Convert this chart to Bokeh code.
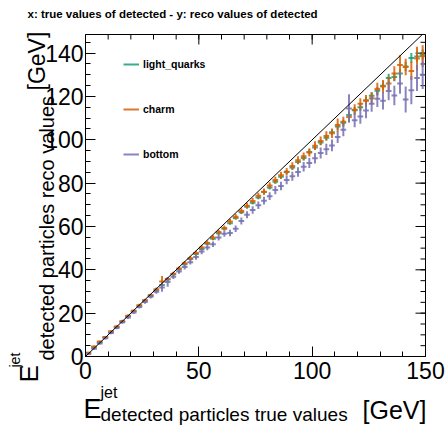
import math
import numpy as np
from bokeh.plotting import figure
from bokeh.models import (ColumnDataSource, Label, Legend, LegendItem,
                          SingleIntervalTicker, Slope, Range1d)
from bokeh.embed import file_html
from bokeh.resources import INLINE

# ---------------- data ----------------
bin_low = 0.0
bin_high = 150.0
n_bins = 60

light_quarks_y = [1.6, 4.1, 6.5, 8.9, 11.2, 13.6, 16.0, 18.6, 21.0, 23.4,
                  25.8, 28.2, 30.6, 33.0, 35.5, 37.9, 40.2, 42.6, 45.0, 47.3,
                  49.6, 52.0, 54.3, 56.9, 59.0, 61.5, 63.9, 66.6, 69.1, 71.0,
                  73.4, 75.9, 78.0, 80.6, 82.9, 85.1, 87.2, 89.8, 91.6, 94.4,
                  96.5, 98.8, 101.0, 103.5, 106.1, 107.9, 111.4, 113.6, 115.0, 118.2,
                  120.3, 122.6, 124.9, 128.5, 129.0, 130.6, 133.8, 137.8, 138.4, 139.2]
light_quarks_err = [0.3, 0.3, 0.3, 0.3, 0.3, 0.3, 0.4, 0.4, 0.4, 0.4,
                    0.4, 0.4, 0.5, 0.5, 0.5, 0.5, 0.5, 0.5, 0.6, 0.6,
                    0.6, 0.6, 0.6, 0.7, 0.7, 0.7, 0.7, 0.8, 0.8, 0.8,
                    0.8, 0.9, 0.9, 0.9, 1.0, 1.0, 1.0, 1.1, 1.1, 1.2,
                    1.2, 1.2, 1.3, 1.3, 1.4, 1.4, 1.5, 1.5, 1.6, 1.7,
                    1.7, 1.8, 1.9, 2.0, 2.0, 2.1, 2.2, 2.3, 2.4, 2.5]

charm_y = [1.7, 4.6, 6.9, 9.0, 11.6, 13.9, 16.4, 18.8, 21.1, 23.7,
           26.0, 28.3, 31.0, 34.6, 35.8, 38.2, 40.6, 43.0, 45.3, 47.8,
           50.3, 52.4, 54.9, 57.4, 59.3, 62.3, 64.5, 67.1, 69.6, 71.8,
           74.2, 76.0, 78.9, 81.4, 83.7, 85.3, 87.9, 90.6, 92.4, 94.2,
           97.3, 99.5, 101.8, 103.0, 106.8, 108.3, 110.5, 113.9, 116.6, 118.0,
           119.2, 123.4, 124.6, 126.0, 130.6, 134.5, 133.6, 131.8, 137.5, 138.6]
charm_err = [0.5, 0.5, 0.5, 0.5, 0.5, 0.6, 0.6, 0.6, 0.6, 0.7,
             0.7, 0.7, 0.8, 2.5, 0.8, 0.9, 0.9, 0.9, 1.0, 1.0,
             1.0, 1.1, 1.1, 1.1, 1.2, 1.2, 1.3, 1.3, 1.3, 1.4,
             1.4, 1.5, 1.5, 1.6, 1.6, 1.7, 1.7, 1.8, 1.8, 1.9,
             2.0, 2.0, 2.1, 2.2, 3.0, 2.3, 2.4, 2.5, 2.6, 2.7,
             2.8, 2.9, 3.0, 3.2, 3.4, 4.5, 3.8, 4.2, 5.5, 5.0]

bottom_y = [1.2, 3.6, 6.0, 8.4, 10.9, 13.2, 15.8, 18.0, 20.3, 22.9,
            25.1, 27.6, 29.9, 31.9, 34.4, 36.8, 39.2, 41.3, 43.5, 45.9,
            48.4, 50.3, 51.8, 54.9, 56.7, 57.0, 58.9, 62.5, 65.4, 67.6,
            69.8, 71.9, 74.0, 76.8, 78.7, 81.5, 83.2, 85.1, 87.6, 89.3,
            91.5, 93.9, 95.6, 97.4, 101.3, 104.6, 114.5, 109.0, 110.8, 113.5,
            116.6, 118.9, 118.0, 122.5, 120.4, 126.0, 118.6, 122.9, 128.5, 130.0]
bottom_err = [0.5, 0.5, 0.5, 0.6, 0.6, 0.6, 0.7, 0.7, 0.7, 0.8,
              0.8, 0.8, 0.9, 2.0, 2.2, 1.0, 1.0, 1.1, 1.1, 1.2,
              1.2, 1.3, 1.3, 1.4, 1.4, 1.5, 1.5, 1.6, 1.6, 1.7,
              1.7, 1.8, 1.8, 1.9, 2.0, 2.0, 2.1, 2.2, 2.2, 2.3,
              2.4, 2.5, 2.6, 2.7, 2.8, 3.0, 6.5, 3.2, 3.4, 3.5,
              3.6, 3.8, 4.0, 4.2, 4.5, 4.8, 6.0, 6.5, 6.0, 6.5]

series_names = ["light_quarks", "charm", "bottom"]
series_colors = ["#1b9e77", "#d95f02", "#7570b3"]

x_major_step = 50
x_minor_step = 10
y_major_step = 20
y_minor_step = 5

# ---------------- figure ----------------
FIG_W, FIG_H = 448, 425
BL, BR, BT, BB = 85, 23, 34, 69
X_END = 150.0
Y_END = 148.6
FONT = "Liberation Sans"

p = figure(width=FIG_W, height=FIG_H, output_backend="svg", toolbar_location=None,
           x_range=Range1d(0, X_END), y_range=Range1d(0, Y_END),
           min_border_left=BL, min_border_right=BR, min_border_top=BT, min_border_bottom=BB)
p.grid.visible = False
p.outline_line_color = "black"
p.outline_line_width = 1
p.background_fill_color = "white"
p.border_fill_color = "white"


def style_axis(ax, standoff):
    ax.axis_line_color = "black"
    ax.axis_line_width = 1
    ax.major_tick_in = 10
    ax.major_tick_out = 0
    ax.minor_tick_in = 5
    ax.minor_tick_out = 0
    ax.major_tick_line_color = "black"
    ax.minor_tick_line_color = "black"
    ax.major_label_text_font = FONT
    ax.major_label_text_color = "black"
    ax.major_label_standoff = standoff
    ax.major_label_text_font_size = "23px"


p.xaxis.ticker = SingleIntervalTicker(interval=x_major_step, num_minor_ticks=x_major_step // x_minor_step)
p.yaxis.ticker = SingleIntervalTicker(interval=y_major_step, num_minor_ticks=y_major_step // y_minor_step)
style_axis(p.xaxis[0], 5)
style_axis(p.yaxis[0], 2)

# mirrored ticks on top and right edges (ROOT style)
top_major = np.arange(0, X_END + 0.1, x_major_step)
top_minor = np.arange(0, X_END + 0.1, x_minor_step)
right_major = np.arange(0, Y_END, y_major_step)
right_minor = np.arange(0, Y_END, y_minor_step)
p.ray(x=top_minor, y=Y_END, length=5, length_units="screen", angle=-math.pi / 2,
      line_color="black", line_width=1)
p.ray(x=top_major, y=Y_END, length=10, length_units="screen", angle=-math.pi / 2,
      line_color="black", line_width=1)
p.ray(x=X_END, y=right_minor, length=5, length_units="screen", angle=math.pi,
      line_color="black", line_width=1)
p.ray(x=X_END, y=right_major, length=10, length_units="screen", angle=math.pi,
      line_color="black", line_width=1)

# diagonal y = x
p.add_layout(Slope(gradient=1, y_intercept=0, line_color="black", line_width=1))

edges = np.linspace(bin_low, bin_high, n_bins + 1)
centers = 0.5 * (edges[:-1] + edges[1:])
half_w = 0.5 * (edges[1:] - edges[:-1])

legend_items = []
for name, col, ys, es in zip(series_names, series_colors,
                             [light_quarks_y, charm_y, bottom_y],
                             [light_quarks_err, charm_err, bottom_err]):
    ys = np.array(ys)
    es = np.array(es)
    src = ColumnDataSource(dict(x=centers, xl=centers - half_w, xr=centers + half_w,
                                y=ys, yl=ys - es, yh=ys + es))
    rv = p.segment(x0="x", y0="yl", x1="x", y1="yh", source=src,
                   line_color=col, line_width=2, line_alpha=0.85)
    p.segment(x0="xl", y0="y", x1="xr", y1="y", source=src,
              line_color=col, line_width=2, line_alpha=0.85)
    legend_items.append(LegendItem(label=name, renderers=[rv]))

legend = Legend(items=legend_items, location=(38, 192),
                glyph_width=16, glyph_height=20, spacing=25, padding=5, margin=0,
                label_standoff=4, label_text_font=FONT, label_text_font_size="10.5px",
                label_text_font_style="bold", label_text_color="black",
                border_line_color=None, background_fill_alpha=0)
p.add_layout(legend)

# ---------------- text overlay (positions in canvas pixels, y downwards) ----------------
ov = figure(width=FIG_W, height=FIG_H, output_backend="svg", toolbar_location=None,
            x_range=Range1d(0, FIG_W), y_range=Range1d(FIG_H, 0),
            x_axis_type=None, y_axis_type=None, min_border=0,
            styles={"position": "absolute", "top": "0px", "left": "0px"})
ov.outline_line_color = None
ov.background_fill_alpha = 0
ov.border_fill_alpha = 0

SINK = 0.25  # baseline correction, as a fraction of the font size


def add_text(txt, px, py, size, angle=0.0, style="normal"):
    s = float(size)
    if angle == 0.0:
        py = py - SINK * s
    else:
        px = px - SINK * s
    ov.add_layout(Label(x=px, y=py, text=txt, angle=angle,
                        text_font=FONT, text_font_size=f"{s}px", text_font_style=style,
                        text_color="black", text_align="left", text_baseline="alphabetic"))


add_text("x: true values of detected - y: reco values of detected", 27, 16.5, 11.5, style="bold")

# x axis title
add_text("E", 83, 415.5, 27)
add_text("jet", 100, 396, 16)
add_text("detected particles true values", 100, 419, 19)
add_text("[GeV]", 362, 416, 25)

# y axis title (rotated)
rot = math.pi / 2
add_text("E", 35, 382, 26, angle=rot)
add_text("jet", 18, 367, 14, angle=rot)
add_text("detected particles reco values", 51, 360, 20, angle=rot)
add_text("[GeV]", 42, 90, 23, angle=rot)

open("out.html", "w").write(file_html([p, ov], INLINE))
